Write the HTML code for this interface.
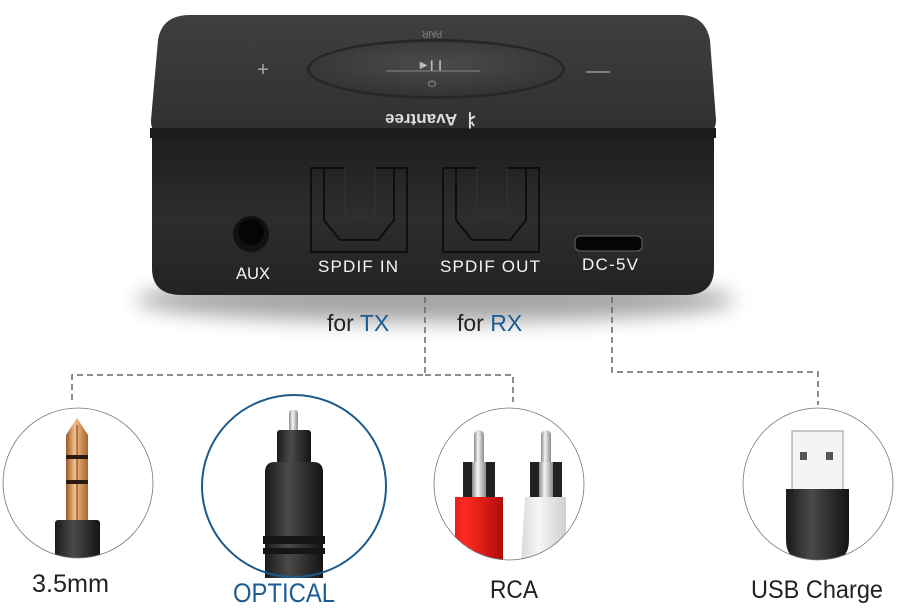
<!DOCTYPE html>
<html><head><meta charset="utf-8"><style>
html,body{margin:0;padding:0;background:#fff;}
svg{display:block;}
text{font-family:"Liberation Sans",sans-serif;}
</style></head><body>
<svg width="897" height="614" viewBox="0 0 897 614" xmlns="http://www.w3.org/2000/svg">
<defs>
<linearGradient id="top" x1="0" y1="0" x2="0" y2="1"><stop offset="0" stop-color="#3e3f41"/><stop offset="1" stop-color="#2e2f31"/></linearGradient>
<linearGradient id="front" x1="0" y1="0" x2="0" y2="1"><stop offset="0" stop-color="#1d1e20"/><stop offset="0.5" stop-color="#2c2d2f"/><stop offset="1" stop-color="#222325"/></linearGradient>
<radialGradient id="btn" cx="0.5" cy="0.4" r="0.6"><stop offset="0" stop-color="#4a4b4d"/><stop offset="1" stop-color="#333436"/></radialGradient>
<linearGradient id="gold" x1="0" y1="0" x2="1" y2="0"><stop offset="0" stop-color="#9a5a2a"/><stop offset="0.4" stop-color="#f2c08a"/><stop offset="1" stop-color="#a8642e"/></linearGradient>
<linearGradient id="blk" x1="0" y1="0" x2="1" y2="0"><stop offset="0" stop-color="#1a1a1a"/><stop offset="0.4" stop-color="#4a4a4a"/><stop offset="1" stop-color="#141414"/></linearGradient>
<linearGradient id="red" x1="0" y1="0" x2="1" y2="0"><stop offset="0" stop-color="#c81010"/><stop offset="0.4" stop-color="#ff2a20"/><stop offset="1" stop-color="#b00c0c"/></linearGradient>
<linearGradient id="wht" x1="0" y1="0" x2="1" y2="0"><stop offset="0" stop-color="#d8d8d8"/><stop offset="0.4" stop-color="#f6f6f6"/><stop offset="1" stop-color="#cfcfcf"/></linearGradient>
<linearGradient id="slv" x1="0" y1="0" x2="1" y2="0"><stop offset="0" stop-color="#888"/><stop offset="0.4" stop-color="#f4f4f4"/><stop offset="1" stop-color="#8a8a8a"/></linearGradient>
<clipPath id="c1"><ellipse cx="78" cy="483" rx="75" ry="75"/></clipPath>
<clipPath id="c3"><ellipse cx="509" cy="484" rx="75" ry="76"/></clipPath>
<clipPath id="c4"><ellipse cx="818" cy="484" rx="75" ry="76"/></clipPath>
<filter id="sh" x="-20%" y="-20%" width="140%" height="160%"><feGaussianBlur stdDeviation="10"/></filter>
</defs>

<ellipse cx="435" cy="300" rx="300" ry="22" fill="#000" opacity="0.35" filter="url(#sh)"/>

<path d="M190,15 L680,15 Q705,15 710,40 L716,120 Q716,135 700,137 L168,137 Q150,135 151,120 L158,40 Q162,15 190,15 Z" fill="url(#top)"/>
<rect x="150" y="128" width="566" height="10" fill="#1a1b1c"/>
<path d="M152,138 L714,138 L714,268 Q714,295 685,295 L182,295 Q152,295 152,268 Z" fill="url(#front)"/>
<ellipse cx="436" cy="69" rx="129" ry="30" fill="#262729" />
<ellipse cx="436" cy="69" rx="126" ry="27" fill="url(#btn)"/>
<line x1="386" y1="71" x2="480" y2="71" stroke="#888" stroke-width="1"/>
<text x="432" y="68" font-size="10" fill="#bbb" text-anchor="middle">▶❙❙</text>
<text x="432" y="87" font-size="10" fill="#aaa" text-anchor="middle">⏻</text>
<text x="263" y="76" font-size="20" fill="#aaa" text-anchor="middle">+</text>
<line x1="586" y1="72" x2="610" y2="72" stroke="#999" stroke-width="1.5"/>
<text x="432" y="23" font-size="9" fill="#888" text-anchor="middle" transform="rotate(180 432 27)">PAIR</text>
<text x="432" y="126" font-size="17" font-weight="bold" fill="#ddd" text-anchor="middle" transform="rotate(180 432 120)">⺦ Avantree</text>

<circle cx="251" cy="234" r="18" fill="#111"/>
<circle cx="251" cy="232" r="13" fill="#050505"/>
<g fill="none" stroke="#0c0c0c" stroke-width="1.8">
<rect x="311" y="168" width="96" height="84"/>
<path d="M324,168 V220 L340,240 H378 L394,220 V168"/>
<rect x="345" y="168" width="30" height="48" stroke-width="1" stroke="#333"/>
<rect x="443" y="168" width="96" height="84"/>
<path d="M456,168 V220 L472,240 H510 L526,220 V168"/>
<rect x="477" y="168" width="30" height="48" stroke-width="1" stroke="#333"/>
</g>
<rect x="575" y="236" width="67" height="15" rx="5" fill="#050505" stroke="#666" stroke-width="1"/>
<g fill="#f6f6f6" font-size="17">
<text x="253" y="279" text-anchor="middle" textLength="34" lengthAdjust="spacingAndGlyphs">AUX</text>
<text x="318" y="272" textLength="80" lengthAdjust="spacing">SPDIF  IN</text>
<text x="440" y="272" textLength="100" lengthAdjust="spacing">SPDIF  OUT</text>
<text x="582" y="270" textLength="56" lengthAdjust="spacing">DC-5V</text>
</g>

<text x="327" y="331" font-size="23" fill="#222">for <tspan fill="#1a5c93">TX</tspan></text>
<text x="457" y="331" font-size="23" fill="#222">for <tspan fill="#1a5c93">RX</tspan></text>

<g fill="none" stroke="#666" stroke-width="1.5" stroke-dasharray="6,4">
<path d="M425,297 V375 H72 V402"/>
<path d="M425,375 H513 V402"/>
<path d="M612,297 V372 H818 V405"/>
</g>

<g clip-path="url(#c1)">
<path d="M66,520 V435 L77,418 L88,435 V520 Z" fill="url(#gold)"/>
<line x1="77" y1="425" x2="77" y2="520" stroke="#7a3a10" stroke-width="1"/>
<rect x="66" y="455" width="22" height="4" fill="#2a1a10"/>
<rect x="66" y="480" width="22" height="4" fill="#2a1a10"/>
<rect x="55" y="520" width="45" height="45" rx="3" fill="url(#blk)"/>
</g>
<ellipse cx="78" cy="483" rx="75" ry="75" fill="none" stroke="#777" stroke-width="0.8"/>
<text x="32" y="592" font-size="25" fill="#222" textLength="77" lengthAdjust="spacingAndGlyphs">3.5mm</text>

<rect x="289" y="410" width="9" height="22" rx="3" fill="url(#slv)"/>
<rect x="277" y="430" width="34" height="34" rx="3" fill="url(#blk)"/>
<path d="M265,472 Q265,462 275,462 H313 Q323,462 323,472 V580 H265 Z" fill="url(#blk)"/>
<rect x="263" y="536" width="62" height="8" fill="#151515"/>
<rect x="263" y="548" width="62" height="6" fill="#151515"/>
<ellipse cx="294" cy="486" rx="92" ry="91" fill="none" stroke="#1a5a8c" stroke-width="2"/>
<rect x="200" y="578" width="190" height="36" fill="#fff"/>
<text x="233" y="602" font-size="27" fill="#1a5c93" textLength="102" lengthAdjust="spacingAndGlyphs">OPTICAL</text>

<g clip-path="url(#c3)">
<rect x="474" y="430" width="10" height="50" rx="5" fill="url(#slv)"/>
<rect x="463" y="462" width="32" height="35" fill="#222"/>
<rect x="472" y="462" width="14" height="35" fill="url(#slv)"/>
<path d="M455,497 H503 V560 L490,580 H440 L455,540 Z" fill="url(#red)"/>
<rect x="541" y="430" width="10" height="50" rx="5" fill="url(#slv)"/>
<rect x="530" y="462" width="32" height="35" fill="#222"/>
<rect x="539" y="462" width="14" height="35" fill="url(#slv)"/>
<path d="M525,497 H566 V560 L560,580 H520 Z" fill="url(#wht)"/>
</g>
<ellipse cx="509" cy="484" rx="75" ry="76" fill="none" stroke="#777" stroke-width="0.8"/>
<text x="490" y="598" font-size="25" fill="#222" textLength="48" lengthAdjust="spacingAndGlyphs">RCA</text>

<g clip-path="url(#c4)">
<rect x="792" y="431" width="51" height="60" fill="#f4f4f4" stroke="#999" stroke-width="1"/>
<rect x="800" y="452" width="7" height="8" fill="#555"/>
<rect x="826" y="452" width="7" height="8" fill="#555"/>
<path d="M786,489 H849 V540 Q849,560 830,562 H806 Q786,560 786,540 Z" fill="url(#blk)"/>
<rect x="810" y="560" width="16" height="20" fill="#222"/>
</g>
<ellipse cx="818" cy="484" rx="75" ry="76" fill="none" stroke="#777" stroke-width="0.8"/>
<text x="751" y="598" font-size="25" fill="#222" textLength="132" lengthAdjust="spacingAndGlyphs">USB Charge</text>
</svg>
</body></html>
